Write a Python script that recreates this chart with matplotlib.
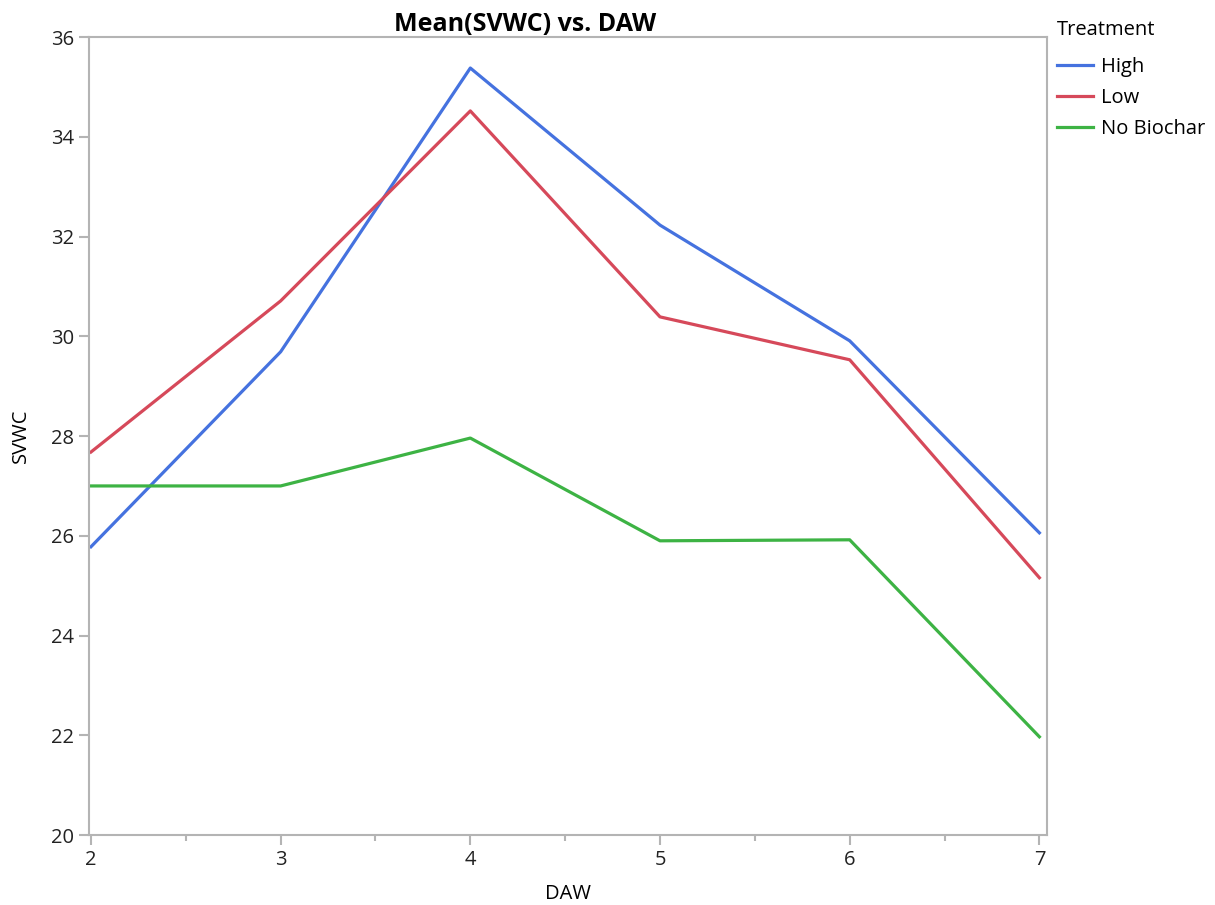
import matplotlib.pyplot as plt
from matplotlib.ticker import MultipleLocator

plt.rcParams['font.family'] = ['Open Sans', 'DejaVu Sans']

# Mean SVWC per day after wetting, one list per treatment
daw = [2, 3, 4, 5, 6, 7]
high = [25.78, 29.69, 35.38, 32.23, 29.91, 26.06]
low = [27.68, 30.71, 34.52, 30.39, 29.53, 25.16]
no_biochar = [27.0, 27.0, 27.96, 25.9, 25.92, 21.97]

series = [('High', high, '#4572DF'),
          ('Low', low, '#D6495A'),
          ('No Biochar', no_biochar, '#3DB344')]

fig = plt.figure(figsize=(12.15, 9.05), dpi=100)
ax = fig.add_axes([0.0733, 0.0773, 0.7884, 0.8817])

for name, vals, color in series:
    ax.plot(daw, vals, color=color, linewidth=2.3, label=name)

ax.set_xlim(1.99, 7.04)
ax.set_ylim(20, 36)
ax.xaxis.set_major_locator(MultipleLocator(1))
ax.xaxis.set_minor_locator(MultipleLocator(0.5))
ax.yaxis.set_major_locator(MultipleLocator(2))

grey = '#b4b4b4'
for s in ax.spines.values():
    s.set_color(grey)
    s.set_linewidth(1.5)
ax.tick_params(which='major', length=7, width=1.5, color=grey,
               labelsize=14.5, labelcolor='#222222', pad=4)
ax.tick_params(which='minor', length=4, width=1.5, color=grey)

ax.set_xlabel('DAW', fontsize=14.5, labelpad=10)
ax.set_ylabel('SVWC', fontsize=14.5, labelpad=14)
ax.set_title('Mean(SVWC) vs. DAW', fontsize=18, fontweight='bold',
             pad=4, x=0.455)

leg = ax.legend(title='Treatment', loc='upper left',
                bbox_to_anchor=(1.002, 1.031), frameon=False,
                fontsize=14.5, title_fontsize=14.5, handlelength=1.8,
                handletextpad=0.4, labelspacing=0.55, borderaxespad=0)
leg._legend_box.align = 'left'
leg._legend_box.sep = 12

plt.savefig('out.png', dpi=100)
